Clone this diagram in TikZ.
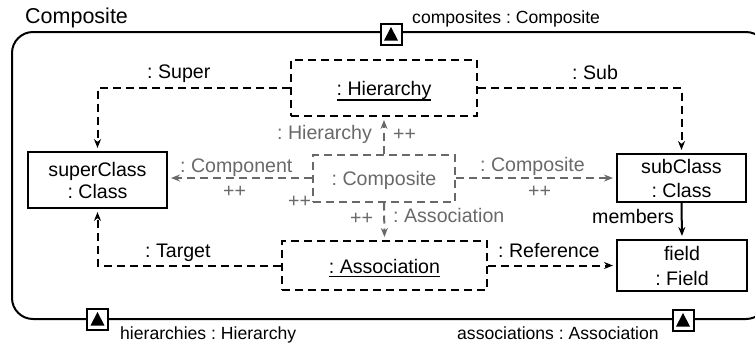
\documentclass[tikz,border=0pt]{standalone}
\usepackage{fontspec}
\setmainfont{Liberation Sans}
\usetikzlibrary{arrows.meta}
\definecolor{compgray}{RGB}{105,105,105}
% underline at a given distance below the baseline
\newcommand\ulbox[2]{\setbox0\hbox{#2}\hbox{\copy0\kern-\wd0\vrule width\wd0 height -#1 depth \dimexpr#1+1.5pt\relax}}
\tikzset{
  txt/.style={font=\fontsize{19.6bp}{22bp}\selectfont, inner sep=0pt},
  porttxt/.style={font=\fontsize{17.6bp}{20bp}\selectfont, inner sep=0pt},
  classbox/.style={draw, line width=2bp, fill=white, align=center, inner sep=0pt},
  instbox/.style={draw, line width=2bp, dash pattern=on 8bp off 5bp, inner sep=0pt,
                  font=\fontsize{19.6bp}{22bp}\selectfont},
  link/.style={line width=2bp, dash pattern=on 8bp off 5bp,
               -{Stealth[length=9bp,width=7bp]}, shorten >=3bp},
  solidlink/.style={line width=2bp, -{Stealth[length=9bp,width=7bp]}, shorten >=3bp},
  portbox/.style={draw, fill=white, line width=2bp, minimum size=21bp, inner sep=0pt},
}
\begin{document}
\frenchspacing
\begin{tikzpicture}[x=1bp, y=-1bp]
\useasboundingbox (0,0) rectangle (755,345);

% outer composite frame
\begin{scope}
  \clip (0,0) rectangle (755,345);
  \draw[line width=2bp, rounded corners=21bp] (12,32) rectangle (767,319);
\end{scope}
\node[anchor=base west, inner sep=0pt, font=\fontsize{21.5bp}{24bp}\selectfont] (title) at (25,23) {Composite};

% ports
\node[portbox] (ptop) at (391,34) {};
\node[portbox] (pleft) at (97.5,319) {};
\node[portbox] (pright) at (683,320) {};
\foreach \p in {ptop,pleft,pright}
  \fill[shift={(\p.center)}] (-7,6.5) -- (7,6.5) -- (0,-7) -- cycle;
\node[porttxt, anchor=base west] (ltop) at (412,23) {composites : Composite};
\node[porttxt, anchor=base west] (lleft) at (120,339) {hierarchies : Hierarchy};
\node[porttxt, anchor=base west] (lright) at (457,339) {associations : Association};

% parts
\node[instbox, minimum width=186bp, minimum height=56bp, text height=14bp, text depth=0bp]
  (hier) at (384,88) {\ulbox{4.3pt}{: Hierarchy}};
\node[instbox, draw=compgray, text=compgray, minimum width=142bp, minimum height=47bp,
  text height=14bp, text depth=0bp] (comp) at (384,178) {: Composite};
\node[instbox, minimum width=205bp, minimum height=49bp, text height=15bp, text depth=0bp]
  (assoc) at (384.5,265.5) {\ulbox{2.8pt}{: Association}};
\node[classbox, minimum width=139bp, minimum height=56bp,
  font=\fontsize{19.6bp}{22bp}\selectfont] (sup) at (97.5,180) {superClass\\: Class};
\node[classbox, minimum width=129bp, minimum height=48bp,
  font=\fontsize{19.6bp}{24bp}\selectfont] (sub) at (681.5,178) {subClass\\: Class};
\node[classbox, minimum width=130bp, minimum height=51bp,
  font=\fontsize{19.6bp}{25bp}\selectfont] (field) at (682,265.5) {field\\: Field};

% connectors
\draw[link] (hier.west) -| (sup.north);
\draw[link] (hier.east) -| (sub.north);
\draw[link] (assoc.west) -| (sup.south);
\draw[link] (assoc.east) -- (field.west);
\draw[solidlink] (sub.south) -- (field.north);
\draw[link, compgray] (comp.north) -- (hier.south);
\draw[link, compgray] (comp.south) -- (assoc.north);
\draw[link, compgray] (comp.west) -- (comp.west -| sup.east);
\draw[link, compgray] (comp.east) -- (comp.east -| sub.west);

% connector labels
\node[txt, anchor=base west] (lsuper) at (147,78) {: Super};
\node[txt, anchor=base west] (lsub) at (572,79) {: Sub};
\node[txt, anchor=base west] (ltarget) at (145,257) {: Target};
\node[txt, anchor=base west] (lref) at (498,257) {: Reference};
\node[txt, anchor=base west] (lmem) at (592,223) {members};
\begin{scope}[every node/.style={txt, text=compgray, anchor=base west}]
  \node (lhier) at (277,139) {: Hierarchy};
  \node (phier) at (393,140) {++};
  \node (lcomp) at (180,172) {: Component};
  \node (pcomp) at (223,197) {++};
  \node (pcompb) at (288,207) {++};
  \node (lcomps) at (480,171) {: Composite};
  \node (pcomps) at (528,197) {++};
  \node (passoc) at (350,224) {++};
  \node (lassoc) at (393,222) {: Association};
\end{scope}
\end{tikzpicture}
\end{document}
